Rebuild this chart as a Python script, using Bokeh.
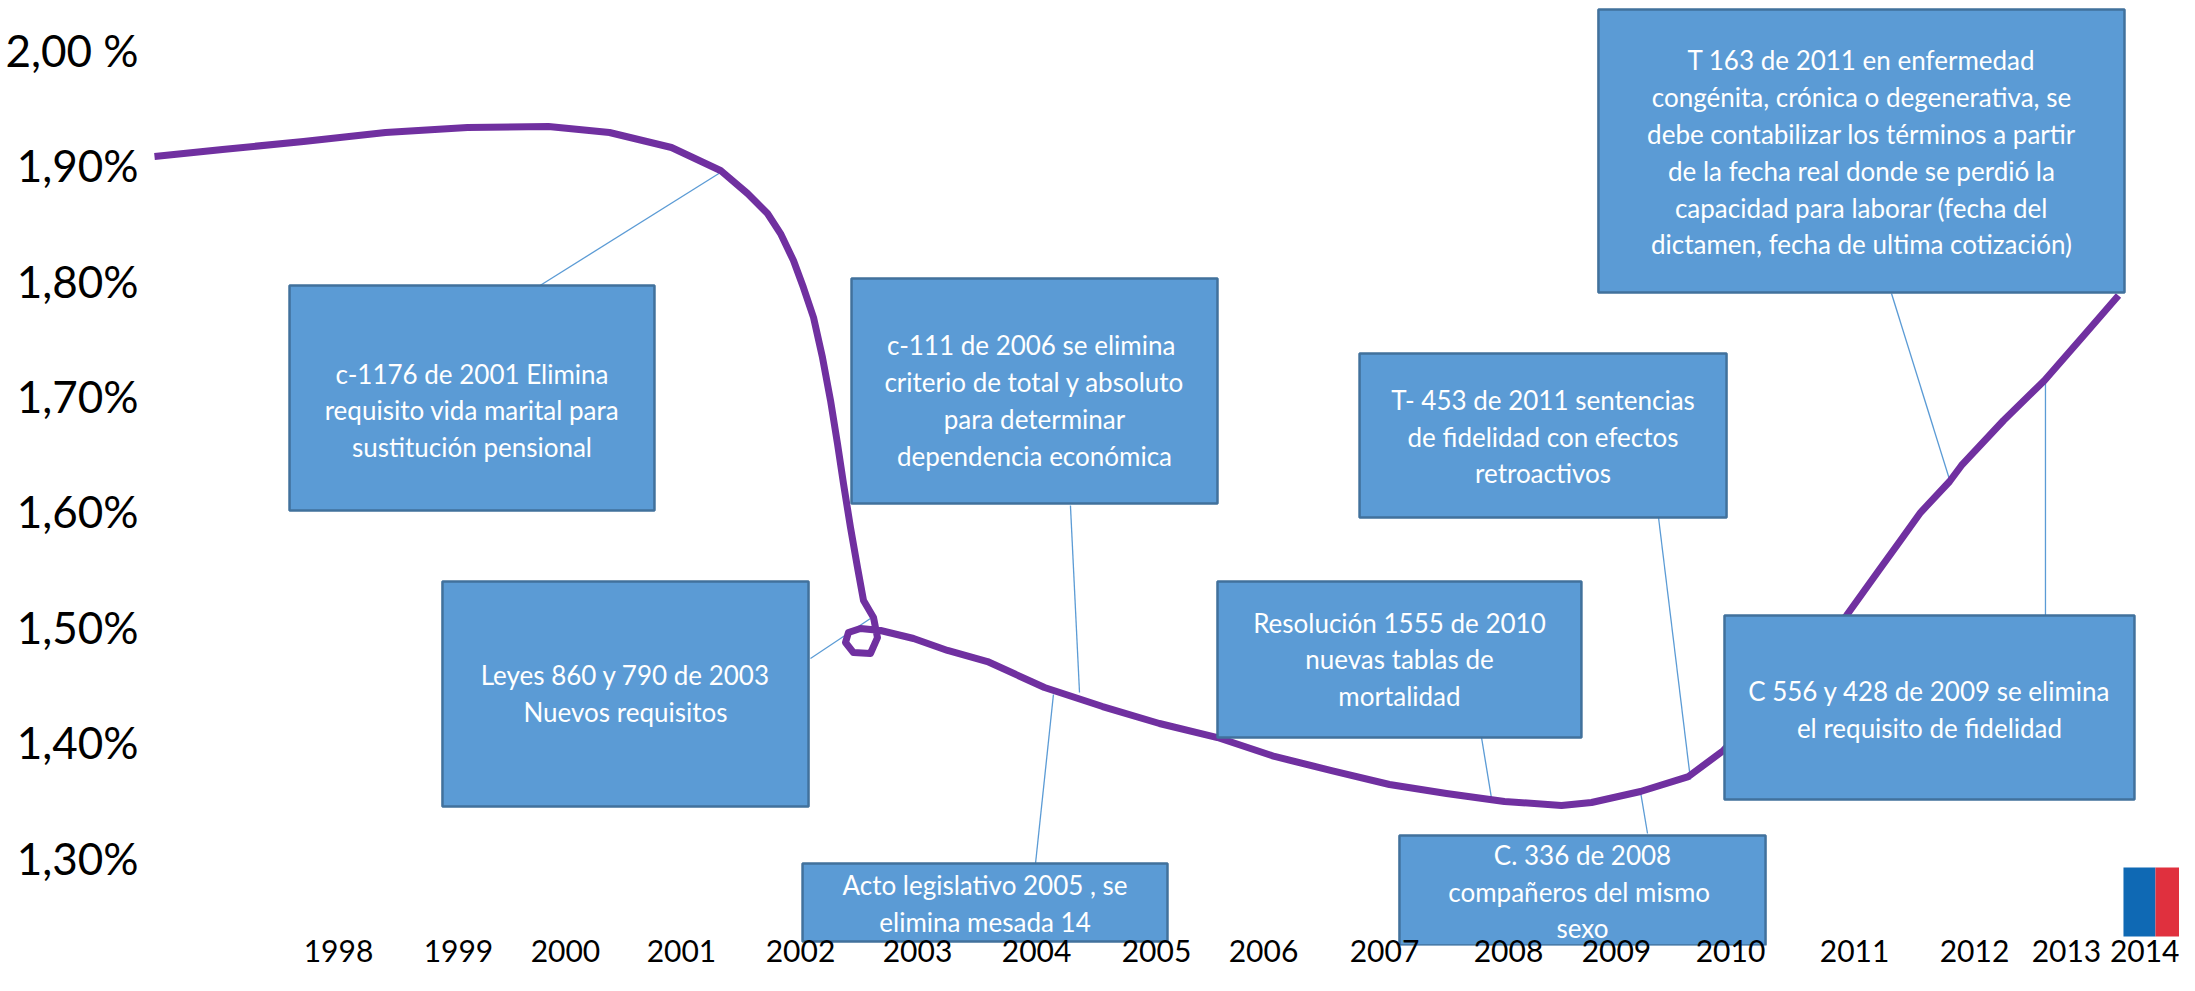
from bokeh.plotting import figure
from bokeh.models import FixedTicker, Range1d
from bokeh.embed import file_html
from bokeh.resources import INLINE
from bokeh.core.properties import value

# ---------------- data ----------------
curve_year = [1996.377, 1996.977, 1997.691, 1998.415, 1999.138, 1999.852, 2000.390,
              2000.937, 2001.369, 2001.608, 2001.784, 2001.899, 2002.013, 2002.101,
              2002.190, 2002.269, 2002.340, 2002.401, 2002.454, 2002.516, 2002.578,
              2002.631, 2002.719, 2002.754, 2002.692, 2002.542, 2002.472, 2002.498,
              2002.604, 2002.781, 2003.072, 2003.372, 2003.724, 2004.227, 2004.739,
              2005.241, 2005.753, 2006.256, 2006.759, 2007.270, 2007.773, 2008.284,
              2008.787, 2009.052, 2009.484, 2009.907, 2010.216, 2010.763, 2011.301,
              2011.592, 2011.777, 2011.954, 2012.210, 2012.315, 2012.686, 2013.047,
              2013.409, 2013.700]
curve_pct = [1.9078, 1.9139, 1.9208, 1.9286, 1.9329, 1.9338, 1.9286,
             1.9156, 1.8957, 1.8757, 1.8584, 1.8410, 1.8176, 1.7942,
             1.7682, 1.7335, 1.6962, 1.6590, 1.6243, 1.5861, 1.5514,
             1.5228, 1.5081, 1.4907, 1.4769, 1.4777, 1.4864, 1.4951,
             1.4986, 1.4968, 1.4899, 1.4795, 1.4699, 1.4474, 1.4309,
             1.4162, 1.4040, 1.3876, 1.3754, 1.3633, 1.3555, 1.3486,
             1.3451, 1.3477, 1.3572, 1.3702, 1.3928, 1.4500, 1.5098,
             1.5497, 1.5749, 1.5991, 1.6260, 1.6399, 1.6789, 1.7136,
             1.7543, 1.7873]

y_tick_values = [1.3, 1.4, 1.5, 1.6, 1.7, 1.8, 1.9, 2.0]
y_tick_labels = ["1,30%", "1,40%", "1,50%", "1,60%", "1,70%", "1,80%", "1,90%", "2,00 %"]

year_labels = ["1998", "1999", "2000", "2001", "2002", "2003", "2004", "2005", "2006",
               "2007", "2008", "2009", "2010", "2011", "2012", "2013", "2014"]

note_texts = [
    "c-1176 de 2001 Elimina\nrequisito vida marital para\nsustitución pensional",
    "Leyes 860 y 790 de 2003\nNuevos requisitos",
    " c-111 de 2006 se elimina\ncriterio de total y absoluto\npara determinar\ndependencia económica",
    "Acto legislativo 2005 , se\nelimina mesada 14",
    "T- 453 de 2011 sentencias\nde fidelidad con efectos\nretroactivos",
    "Resolución 1555 de 2010\nnuevas tablas de\nmortalidad",
    "C. 336 de 2008\ncompañeros  del mismo\nsexo",
    "T 163 de 2011 en enfermedad\ncongénita, crónica o degenerativa, se\ndebe contabilizar los términos a partir\nde la fecha real donde se perdió la\ncapacidad para laborar (fecha del\ndictamen, fecha de ultima cotización)",
    "C 556 y 428 de 2009 se elimina\nel requisito de fidelidad",
]

# ---------------- layout of the annotations (axis units) ----------------
year_tick_pos = [1998.0, 1999.058, 2000.002, 2001.025, 2002.075, 2003.107, 2004.157,
                 2005.215, 2006.159, 2007.226, 2008.320, 2009.272, 2010.278, 2011.372,
                 2012.430, 2013.241, 2014.0]

box_left = [1997.568, 1998.917, 2002.525, 2002.093, 2007.006, 2005.753, 2007.358, 2009.113, 2010.225]
box_right = [2000.787, 2002.146, 2005.753, 2005.312, 2010.243, 2008.963, 2010.587, 2013.753, 2013.841]
box_top = [1.7960, 1.5393, 1.8020, 1.2948, 1.7370, 1.5393, 1.3191, 2.0353, 1.5098]
box_bottom = [1.6009, 1.3442, 1.6069, 1.2272, 1.5948, 1.4040, 1.2237, 1.7899, 1.3503]
text_y = [1.6876, 1.4422, 1.6962, 1.2601, 1.6650, 1.4717, 1.2705, 1.9113, 1.4283]

lead_x0 = [1999.764, 2002.163, 2004.456, 2004.306, 2008.082, 2009.643, 2009.484, 2011.698, 2013.056]
lead_y0 = [1.7951, 1.4725, 1.6052, 1.4413, 1.4040, 1.5948, 1.3572, 1.7890, 1.7136]
lead_x1 = [2001.369, 2002.692, 2004.536, 2004.148, 2008.170, 2009.925, 2009.546, 2012.218, 2013.056]
lead_y1 = [1.8939, 1.5072, 1.4431, 1.2948, 1.3512, 1.3676, 1.3208, 1.6251, 1.5098]

FONT = "Lato"

p = figure(width=2179, height=975, output_backend="svg", toolbar_location=None,
           title=None,
           x_range=Range1d(1996.3242, 2014.2382), y_range=Range1d(1.22370, 2.04306),
           min_border_left=148, min_border_right=0, min_border_top=0, min_border_bottom=30)
p.outline_line_color = None
p.grid.visible = False
p.background_fill_color = "white"
p.border_fill_color = "white"

# axes
p.yaxis.ticker = FixedTicker(ticks=y_tick_values)
p.yaxis.major_label_overrides = {v: t for v, t in zip(y_tick_values, y_tick_labels)}
p.yaxis.major_label_text_font = FONT
p.yaxis.major_label_text_font_size = "44px"
p.yaxis.major_label_text_color = "black"
p.yaxis.major_label_standoff = 10

p.xaxis.ticker = FixedTicker(ticks=year_tick_pos)
p.xaxis.major_label_overrides = {v: t for v, t in zip(year_tick_pos, year_labels)}
p.xaxis.major_label_text_font = FONT
p.xaxis.major_label_text_font_size = "30px"
p.xaxis.major_label_text_color = "black"
p.xaxis.major_label_standoff = -6

for ax in (p.xaxis, p.yaxis):
    ax.axis_line_color = None
    ax.major_tick_line_color = None
    ax.minor_tick_line_color = None
    ax.major_tick_out = 0
    ax.major_tick_in = 0

# leader lines
p.segment(x0=lead_x0, y0=lead_y0, x1=lead_x1, y1=lead_y1,
          line_color="#5B9BD5", line_width=1.3)

# curve
p.line(curve_year, curve_pct, line_color="#7030A0", line_width=7,
       line_join="round", line_cap="butt")

# boxes
p.quad(left=box_left, right=box_right, top=box_top, bottom=box_bottom,
       fill_color="#5B9BD5", line_color="#41719C", line_width=2.5)

tx = [(a + b) / 2 for a, b in zip(box_left, box_right)]
p.text(x=tx, y=text_y, text=note_texts, text_color="white",
       text_font=value(FONT), text_font_size="26px",
       text_align="center", text_baseline="middle", text_line_height=1.15)

# logo (decoration)
p.quad(left=[2013.744], right=[2014.026], top=[1.2913], bottom=[1.2315],
       fill_color="#0F69B4", line_color=None)
p.quad(left=[2014.026], right=[2014.40], top=[1.2913], bottom=[1.2315],
       fill_color="#E0303E", line_color=None)

open("out.html", "w").write(file_html(p, INLINE))
